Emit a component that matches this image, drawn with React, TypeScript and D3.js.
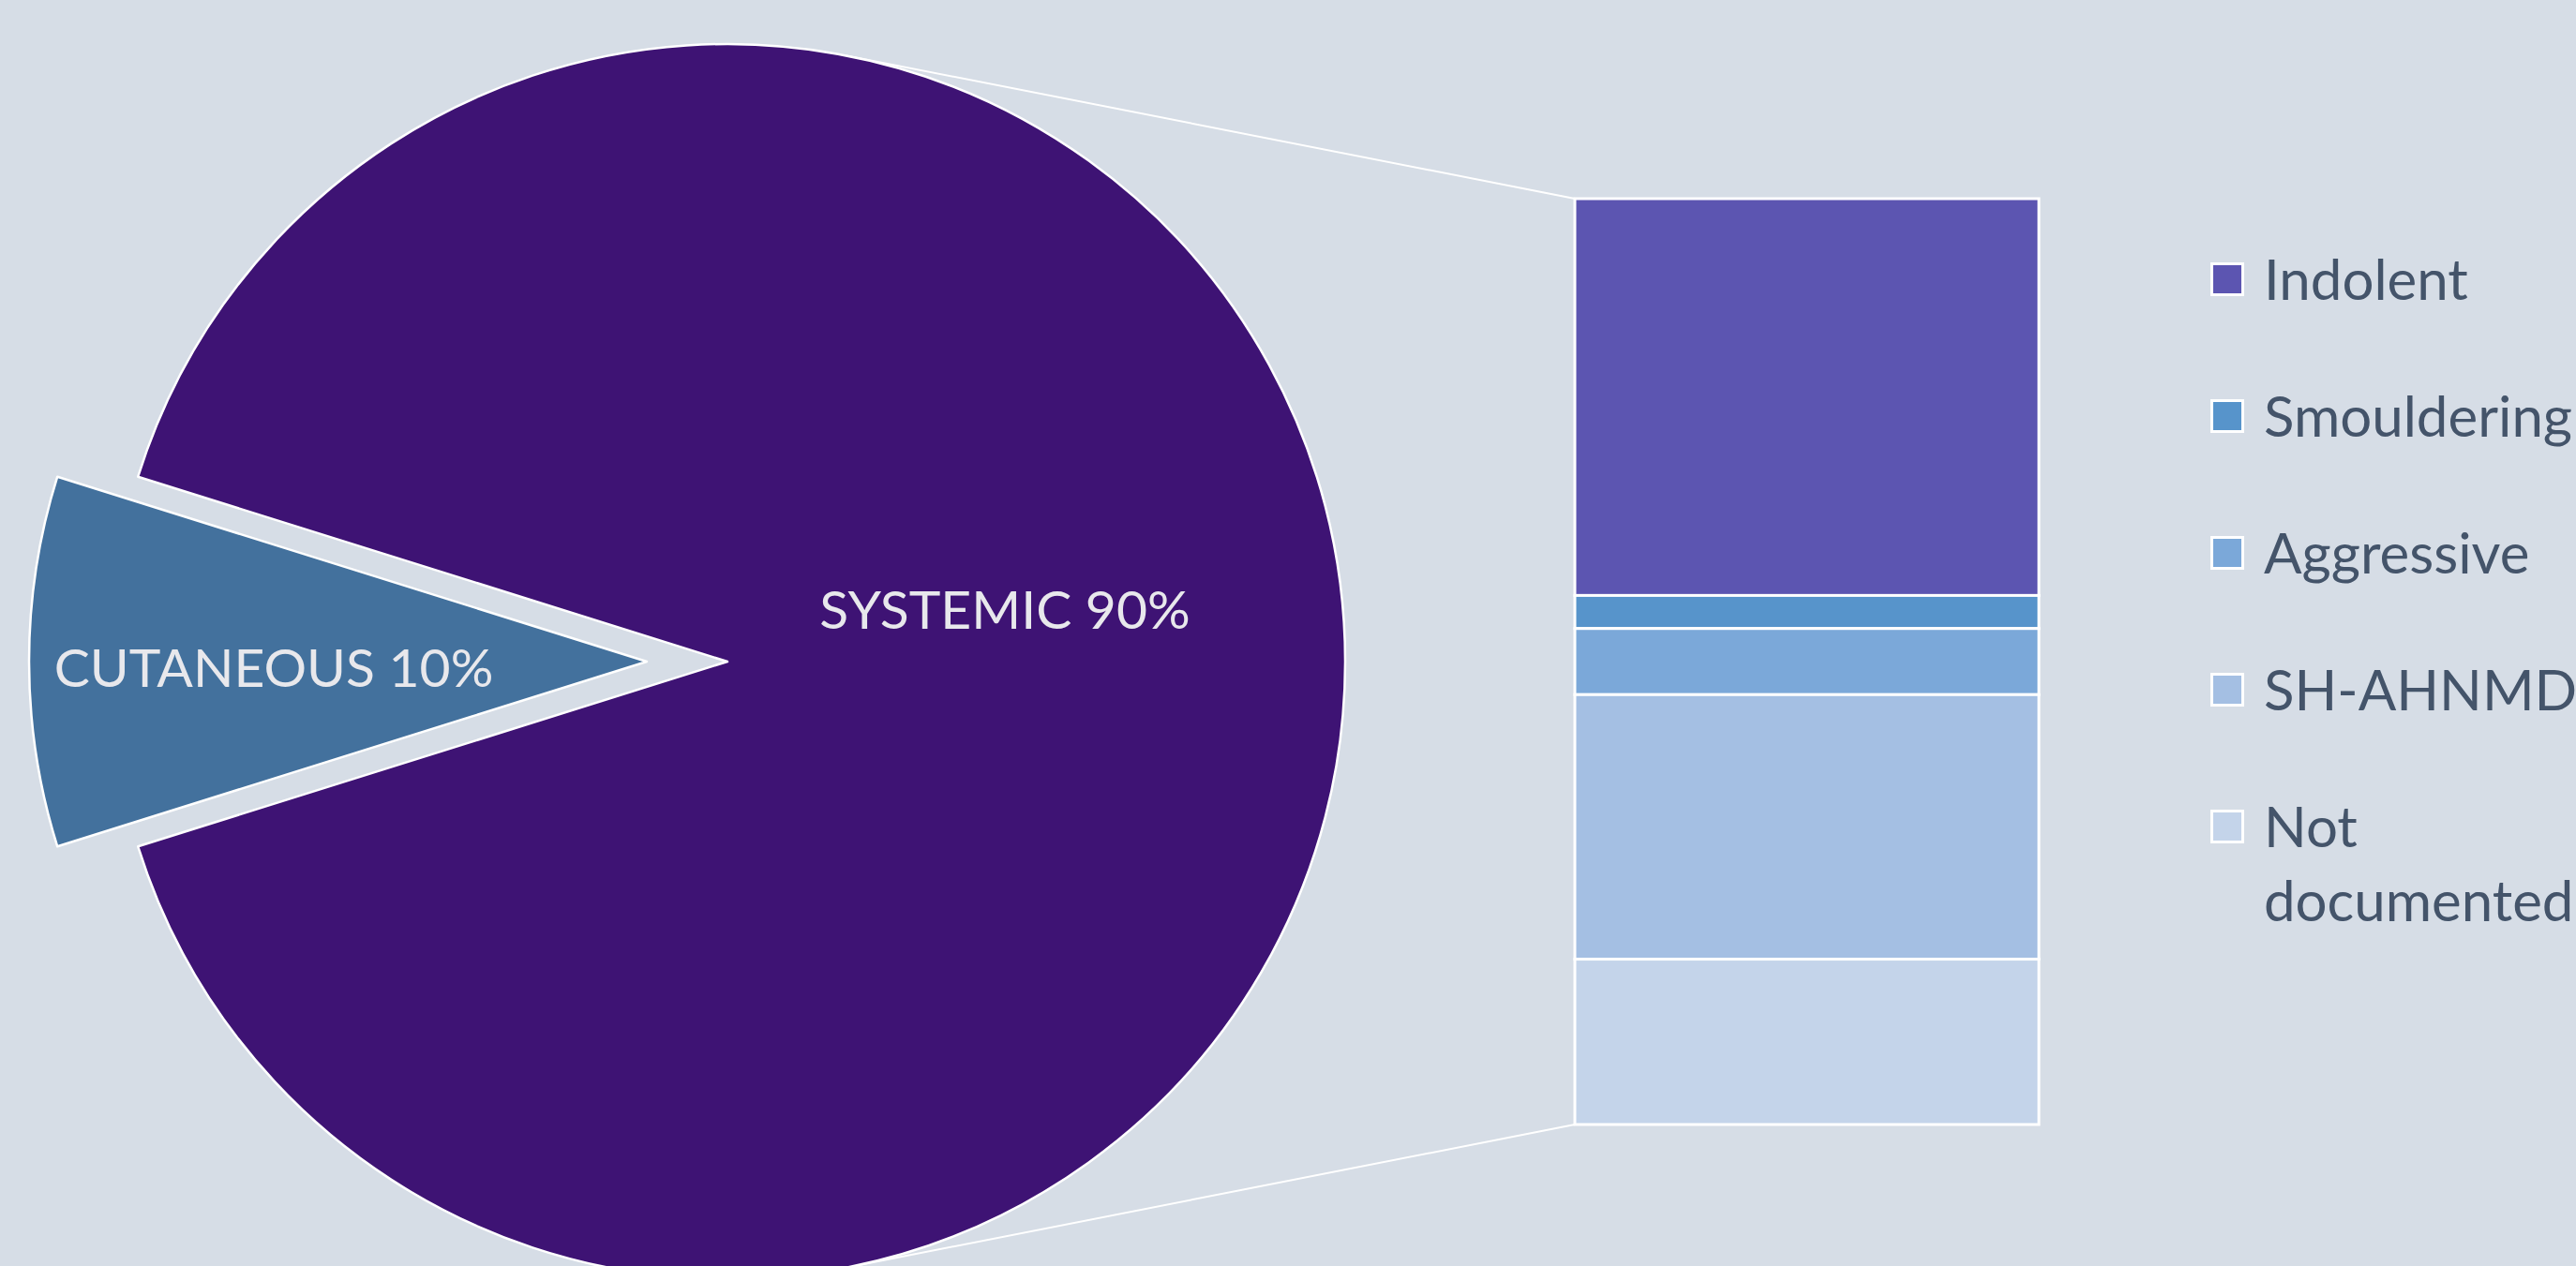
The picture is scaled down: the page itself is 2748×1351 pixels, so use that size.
import React from "react";
import * as d3 from "d3";

const pieCategories = ["SYSTEMIC", "CUTANEOUS"];
const pieValues = [28, 3];
const pieColors = ["#3E1374", "#43719D"];

const barCategories = ["Indolent", "Smouldering", "Aggressive", "SH-AHNMD", "Not documented"];
const barValues = [12, 1, 2, 8, 5];
const barColors = ["#5C55B1", "#5794CB", "#7BA8D9", "#A4BFE3", "#C4D4EA"];
const legendLines = [["Indolent"], ["Smouldering"], ["Aggressive"], ["SH-AHNMD"], ["Not", "documented"]];

const W = 2748;
const H = 1351;
const BG = "#D6DDE6";
const FONT = "Lato, 'Open Sans', sans-serif";

export default function App() {
  const cx = 776;
  const cy = 706;
  const R = 659;
  const explode = 86;

  const pieTotal = d3.sum(pieValues);
  // centre the small slice on the left (9 o'clock)
  const start = -0.5 * Math.PI + (Math.PI * pieValues[1]) / pieTotal;
  const pie = d3
    .pie<number>()
    .sort(null)
    .startAngle(start)
    .endAngle(start + 2 * Math.PI);
  const arcs = pie(pieValues);
  const arc = d3.arc<d3.PieArcDatum<number>>().innerRadius(0).outerRadius(R);

  // bar
  const barX = 1680;
  const barW = 495;
  const barTop = 212;
  const barBottom = 1200;
  const total = d3.sum(barValues);
  const y = d3.scaleLinear().domain([0, total]).range([barTop, barBottom]);
  const cum = barValues.map((_, i) => d3.sum(barValues.slice(0, i)));

  // tangent connectors
  const tangent = (px: number, py: number, upper: boolean) => {
    const dx = px - cx;
    const dy = py - cy;
    const d = Math.hypot(dx, dy);
    const ux = dx / d;
    const uy = dy / d;
    const a = Math.acos(R / d);
    const s = upper ? 1 : -1;
    const nx = uy * s;
    const ny = -ux * s;
    return [cx + R * (Math.cos(a) * ux + Math.sin(a) * nx), cy + R * (Math.cos(a) * uy + Math.sin(a) * ny)];
  };
  const tUp = tangent(barX, barTop, true);
  const tDn = tangent(barX, barBottom, false);

  const labelPos = [
    { x: 1072, y: 671 },
    { x: 292, y: 733 },
  ];

  const legendX = 2358;
  const legendY0 = 298;
  const legendStep = 146;
  const sq = 33;

  return (
    <div style={{ position: "absolute", left: 0, top: 0 }}>
      <svg width={W} height={H} style={{ display: "block" }}>
        <rect x={0} y={0} width={W} height={H} fill={BG} />
        <line x1={tUp[0]} y1={tUp[1]} x2={barX} y2={barTop} stroke="#FFFFFF" strokeWidth={2} />
        <line x1={tDn[0]} y1={tDn[1]} x2={barX} y2={barBottom} stroke="#FFFFFF" strokeWidth={2} />
        {arcs.map((a, i) => {
          const mid = (a.startAngle + a.endAngle) / 2;
          const off = i === 1 ? explode : 0;
          const tx = cx + Math.sin(mid) * off;
          const ty = cy - Math.cos(mid) * off;
          return (
            <path
              key={pieCategories[i]}
              d={arc(a) || ""}
              transform={`translate(${tx},${ty})`}
              fill={pieColors[i]}
              stroke="#FFFFFF"
              strokeWidth={2.5}
              strokeLinejoin="round"
            />
          );
        })}
        {arcs.map((a, i) => (
          <text
            key={"l" + i}
            x={labelPos[i].x}
            y={labelPos[i].y}
            textAnchor="middle"
            fontFamily={FONT}
            fontSize={57}
            fill="#E8E8EC"
          >
            {`${pieCategories[i]} ${Math.round((pieValues[i] / pieTotal) * 100)}%`}
          </text>
        ))}
        {barValues.map((v, i) => (
          <rect
            key={barCategories[i]}
            x={barX}
            y={y(cum[i])}
            width={barW}
            height={y(cum[i] + v) - y(cum[i])}
            fill={barColors[i]}
            stroke="#FFFFFF"
            strokeWidth={3}
          />
        ))}
        {barCategories.map((c, i) => {
          const yc = legendY0 + i * legendStep;
          return (
            <g key={"lg" + c}>
              <rect
                x={legendX + 1.5}
                y={yc - sq / 2}
                width={sq}
                height={sq}
                fill={barColors[i]}
                stroke="#FFFFFF"
                strokeWidth={3}
              />
              <text x={2415} y={yc + 22} fontFamily={FONT} fontSize={60} fill="#44546A">
                {legendLines[i].map((t, j) => (
                  <tspan key={j} x={2415} dy={j === 0 ? 0 : 79}>
                    {t}
                  </tspan>
                ))}
              </text>
            </g>
          );
        })}
      </svg>
    </div>
  );
}
